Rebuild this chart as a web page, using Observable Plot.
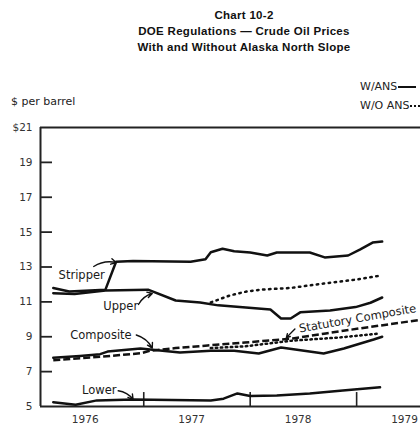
<!DOCTYPE html>
<html>
<head>
<meta charset="utf-8">
<script src="https://cdn.jsdelivr.net/npm/d3@7"></script>
<script src="https://cdn.jsdelivr.net/npm/@observablehq/plot@0.6"></script>
<style>
  body { margin: 0; background: #fff; }
  #wrap { position: relative; width: 420px; height: 429px; overflow: hidden; background: #fff; }
  .title { position: absolute; left: 0; width: 488px; text-align: center; font: bold 11.5px "Liberation Sans", Arial, sans-serif; color: #111; line-height: 14px; white-space: nowrap; letter-spacing: 0.3px; }
  .lab { position: absolute; font: 11px "DejaVu Sans", sans-serif; color: #222; line-height: 13px; white-space: nowrap; }
  .sw { display: inline-block; vertical-align: middle; width: 18px; margin-left: 1px; }
  #chart { position: absolute; left: 0; top: 0; }
</style>
</head>
<body>
<div id="wrap">
  <div class="title" style="top:8px">Chart 10-2</div>
  <div class="title" style="top:24px">DOE Regulations — Crude Oil Prices</div>
  <div class="title" style="top:40px">With and Without Alaska North Slope</div>
  <div class="lab" style="left:11px;top:95px">$ per barrel</div>
  <div class="lab" style="left:360px;top:80px">W/ANS<span class="sw" style="border-top:2.5px solid #111;"></span></div>
  <div class="lab" style="left:360px;top:99px">W/O ANS<span class="sw" style="border-top:2.5px dotted #111;"></span></div>
  <div id="chart"></div>
</div>
<script>
// ---- data (years as decimal, price in $ per barrel) ----
const stripperYear  = [1976.15, 1976.30, 1976.64, 1976.74, 1976.90, 1977.44, 1977.58, 1977.63, 1977.74, 1977.85, 1978.00, 1978.16, 1978.25, 1978.56, 1978.70, 1978.92, 1979.03, 1979.15, 1979.24];
const stripperPrice = [11.8, 11.6, 11.7, 13.3, 13.35, 13.3, 13.45, 13.85, 14.05, 13.9, 13.83, 13.66, 13.83, 13.83, 13.55, 13.66, 14.0, 14.4, 14.46];

const upperYear  = [1976.15, 1976.35, 1976.64, 1977.04, 1977.30, 1977.53, 1977.70, 1978.19, 1978.29, 1978.38, 1978.47, 1978.75, 1978.99, 1979.13, 1979.24];
const upperPrice = [11.5, 11.45, 11.65, 11.7, 11.08, 10.96, 10.8, 10.56, 10.05, 10.05, 10.4, 10.5, 10.7, 10.95, 11.25];

const upperWoYear  = [1977.63, 1977.81, 1977.97, 1978.10, 1978.38, 1978.69, 1978.85, 1979.00, 1979.22];
const upperWoPrice = [10.97, 11.37, 11.6, 11.7, 11.8, 12.05, 12.17, 12.28, 12.5];

const compositeYear  = [1976.15, 1976.40, 1976.59, 1976.66, 1976.97, 1977.06, 1977.34, 1977.63, 1977.85, 1978.08, 1978.29, 1978.69, 1978.88, 1979.16, 1979.24];
const compositePrice = [7.8, 7.9, 8.0, 8.15, 8.32, 8.27, 8.1, 8.2, 8.2, 8.04, 8.38, 8.04, 8.33, 8.84, 9.0];

const compositeWoYear  = [1977.63, 1977.95, 1978.40, 1978.84, 1979.22];
const compositeWoPrice = [8.35, 8.45, 8.78, 8.96, 9.19];

const statutoryYear  = [1976.15, 1976.59, 1976.97, 1977.06, 1977.30, 1977.60, 1977.95, 1978.40, 1978.71, 1979.02, 1979.22, 1979.60];
const statutoryPrice = [7.65, 7.85, 8.05, 8.2, 8.35, 8.5, 8.67, 8.9, 9.19, 9.47, 9.64, 9.97];

const lowerYear  = [1976.15, 1976.36, 1976.56, 1976.90, 1977.63, 1977.75, 1977.88, 1978.00, 1978.25, 1978.56, 1978.87, 1979.22];
const lowerPrice = [5.25, 5.1, 5.35, 5.4, 5.35, 5.45, 5.75, 5.6, 5.63, 5.75, 5.92, 6.1];

const yTicks = [5, 7, 9, 11, 13, 15, 17, 19, 21];
const yearTicks = [1977, 1978, 1979];
const yearLabels = [1976, 1977, 1978, 1979];

// ---- build tables ----
const pts = (xs, ys) => xs.map((x, i) => ({year: x, price: ys[i]}));
const stripper = pts(stripperYear, stripperPrice);
const upper = pts(upperYear, upperPrice);
const upperWo = pts(upperWoYear, upperWoPrice);
const composite = pts(compositeYear, compositePrice);
const compositeWo = pts(compositeWoYear, compositeWoPrice);
const statutory = pts(statutoryYear, statutoryPrice);
const lower = pts(lowerYear, lowerPrice);

const W = 420, ML = 40, MR = 0;
const xDomain = [1976.03, 1979.6];
const pxPerYear = (W - ML - MR) / (xDomain[1] - xDomain[0]);
const ink = "#111";
const font = "DejaVu Sans, sans-serif";
const lineOpts = {x: "year", y: "price", stroke: ink, strokeWidth: 2.5, strokeLinejoin: "round", strokeLinecap: "round"};
const labelOpts = {text: d => d, fontSize: 11.5, fontFamily: font, fill: "#1a1a1a", textAnchor: "start"};
const arrowOpts = {stroke: ink, strokeWidth: 1.4, headLength: 6, bend: true};

const chart = Plot.plot({
  width: W,
  height: 429,
  marginTop: 127,
  marginBottom: 23,
  marginLeft: ML,
  marginRight: MR,
  x: {domain: xDomain},
  y: {domain: [5, 21]},
  style: {background: "transparent", fontFamily: font},
  marks: [
    // axes
    Plot.axisY({ticks: yTicks, tickSize: 0, tickPadding: 8,
      tickFormat: d => d === 21 ? "$21" : String(d), fontSize: 10.5, fill: "#333", label: null}),
    Plot.ruleY(yTicks.filter(d => d !== 5 && d !== 21), {x1: xDomain[0], x2: xDomain[0] + 12 / pxPerYear, stroke: "#222", strokeWidth: 1.8}),
    Plot.ruleX(yearTicks, {y1: 5, y2: 5.8, stroke: "#222", strokeWidth: 1.6}),
    Plot.axisX(yearLabels.map(y => y + 0.45), {tickSize: 0, tickPadding: 9, tickFormat: d => String(Math.floor(d)), fontSize: 10.5, fill: "#333", label: null}),
    Plot.ruleY([5, 21], {stroke: "#222", strokeWidth: 2}),
    Plot.ruleX([xDomain[0]], {stroke: "#222", strokeWidth: 2}),
    // series
    Plot.line(statutory, {...lineOpts, strokeDasharray: "7,3", strokeLinecap: "butt"}),
    Plot.line(compositeWo, {...lineOpts, strokeDasharray: "1.5,3.5"}),
    Plot.line(composite, lineOpts),
    Plot.line(lower, lineOpts),
    Plot.line(upper, lineOpts),
    Plot.line(upperWo, {...lineOpts, strokeDasharray: "1.5,4.5"}),
    Plot.line(stripper, lineOpts),
    // annotations
    Plot.text(["Stripper"], {...labelOpts, x: 1976.2, y: 12.5}),
    Plot.arrow([0], {...arrowOpts, x1: 1976.53, y1: 13.03, x2: 1976.74, y2: 13.26}),
    Plot.text(["Upper"], {...labelOpts, x: 1976.62, y: 10.73}),
    Plot.arrow([0], {...arrowOpts, x1: 1976.95, y1: 10.85, x2: 1977.08, y2: 11.48}),
    Plot.text(["Composite"], {...labelOpts, x: 1976.31, y: 9.1}),
    Plot.arrow([0], {...arrowOpts, x1: 1976.93, y1: 9.1, x2: 1977.08, y2: 8.35}),
    Plot.text(["Lower"], {...labelOpts, x: 1976.42, y: 5.92}),
    Plot.arrow([0], {...arrowOpts, x1: 1976.76, y1: 5.9, x2: 1976.9, y2: 5.4}),
    Plot.text(["Statutory Composite"], {...labelOpts, x: 1978.46, y: 9.45, rotate: -10}),
    Plot.arrow([0], {...arrowOpts, bend: false, x1: 1978.42, y1: 9.45, x2: 1978.34, y2: 8.95})
  ]
});
document.getElementById("chart").appendChild(chart);
</script>
</body>
</html>
